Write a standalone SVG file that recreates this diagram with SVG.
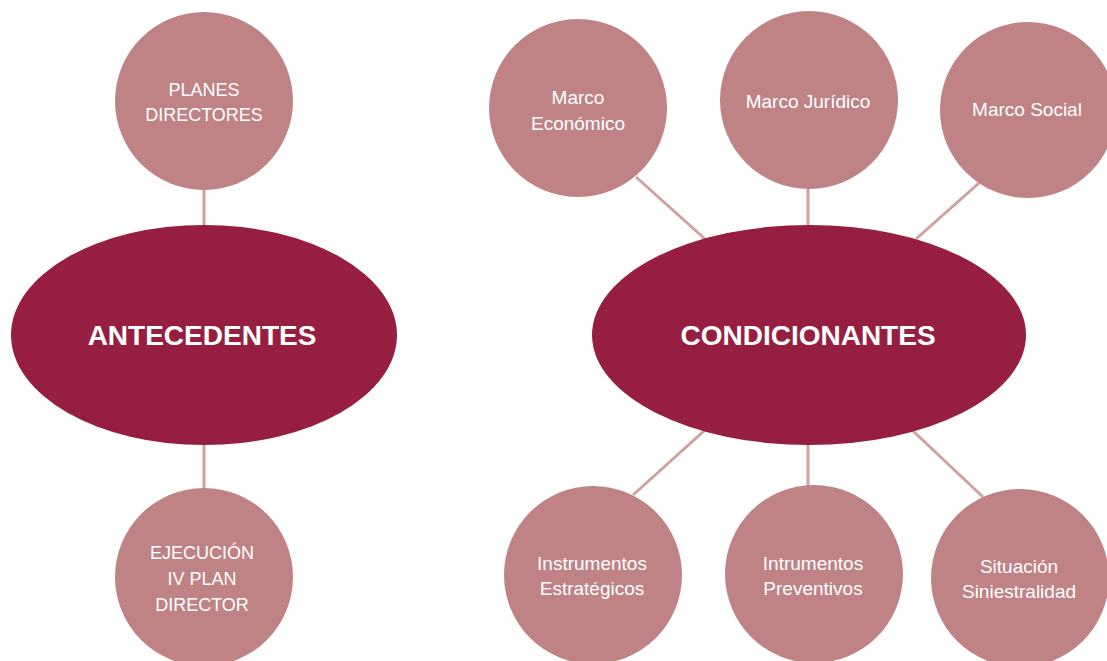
<svg xmlns="http://www.w3.org/2000/svg" width="1107" height="661" viewBox="0 0 1107 661">
<style>
.sat{fill:#bf8385}
.hub{fill:#961f41}
.lbl{fill:#ffffff;font-family:"Liberation Sans",Arial,sans-serif;font-size:19px;text-anchor:middle}
.cap{font-size:18px}
.big{fill:#ffffff;font-family:"Liberation Sans",Arial,sans-serif;font-size:28px;font-weight:bold;text-anchor:middle}
.con line{stroke:#d1a0a1;stroke-width:3}
</style>
<rect width="1107" height="661" fill="#ffffff"/>
<g id="connectors" class="con">
<line x1="204" y1="190" x2="204" y2="226"/>
<line x1="204" y1="444" x2="204" y2="489"/>
<line x1="636" y1="177" x2="705" y2="239"/>
<line x1="808" y1="189" x2="808" y2="226"/>
<line x1="979" y1="183" x2="916" y2="239"/>
<line x1="705" y1="430" x2="633" y2="495"/>
<line x1="808" y1="443" x2="808" y2="487"/>
<line x1="912" y1="430" x2="983" y2="497"/>
</g>
<g id="planes-directores">
<circle class="sat" cx="204" cy="101" r="89"/>
<text class="lbl cap" x="204" y="96">PLANES</text>
<text class="lbl cap" x="204" y="121">DIRECTORES</text>
</g>
<g id="antecedentes">
<ellipse class="hub" cx="204" cy="335" rx="193" ry="110"/>
<text class="big" x="202" y="345">ANTECEDENTES</text>
</g>
<g id="ejecucion">
<circle class="sat" cx="204" cy="577" r="89"/>
<text class="lbl cap" x="202" y="559">EJECUCIÓN</text>
<text class="lbl cap" x="202" y="585">IV PLAN</text>
<text class="lbl cap" x="202" y="611">DIRECTOR</text>
</g>
<g id="condicionantes">
<ellipse class="hub" cx="809" cy="335" rx="217" ry="110"/>
<text class="big" x="808" y="345">CONDICIONANTES</text>
</g>
<g id="marco-economico">
<circle class="sat" cx="578" cy="108" r="89"/>
<text class="lbl" x="578" y="104">Marco</text>
<text class="lbl" x="578" y="130">Económico</text>
</g>
<g id="marco-juridico">
<circle class="sat" cx="809" cy="100" r="89"/>
<text class="lbl" x="808" y="108">Marco Jurídico</text>
</g>
<g id="marco-social">
<circle class="sat" cx="1028" cy="110" r="88"/>
<text class="lbl" x="1027" y="116">Marco Social</text>
</g>
<g id="instrumentos-estrategicos">
<circle class="sat" cx="593" cy="575" r="89"/>
<text class="lbl" x="592" y="570">Instrumentos</text>
<text class="lbl" x="592" y="595">Estratégicos</text>
</g>
<g id="intrumentos-preventivos">
<circle class="sat" cx="814" cy="574" r="89"/>
<text class="lbl" x="813" y="570">Intrumentos</text>
<text class="lbl" x="813" y="595">Preventivos</text>
</g>
<g id="situacion-siniestralidad">
<circle class="sat" cx="1020" cy="578" r="89"/>
<text class="lbl" x="1019" y="573">Situación</text>
<text class="lbl" x="1019" y="598">Siniestralidad</text>
</g>
</svg>
